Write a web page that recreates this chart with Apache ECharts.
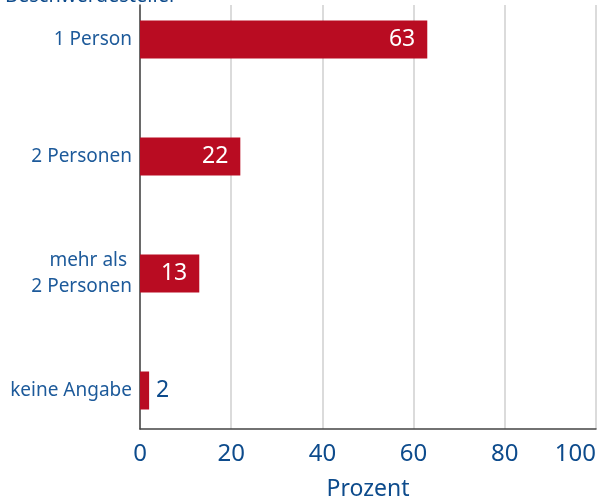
<!DOCTYPE html>
<html>
<head>
<meta charset="utf-8">
<script src="https://cdn.jsdelivr.net/npm/echarts@6/dist/echarts.min.js"></script>
<style>
    html, body { margin: 0; padding: 0; background: #fff; }
    #chart { width: 598px; height: 499px; }
</style>
</head>
<body>
<div id="chart"></div>
<script>
// Daten
var categories = ['1 Person', '2 Personen', 'mehr als \n2 Personen', 'keine Angabe'];
var values = [63, 22, 13, 2];
var xTicks = [0, 20, 40, 60, 80, 100];

var barColor = '#b90c22';
var blue = '#1d5a9a';
var darkBlue = '#0d4b8c';

// kleine Balken bekommen die Zahl außen
var barData = values.map(function (v) {
    var small = v < 5;
    return {
        value: v,
        label: {
            show: true,
            position: small ? 'right' : 'insideRight',
            distance: small ? 7 : 12,
            color: small ? darkBlue : '#fff',
            fontSize: 23,
            fontFamily: 'Noto Sans'
        }
    };
});

var chart = echarts.init(document.getElementById('chart'));
var option = {
    animation: false,
    title: {
        text: 'Beschwerdesteller',
        left: 0,
        top: -19,
        textStyle: {color: darkBlue, fontSize: 20, fontWeight: 'normal', fontFamily: 'Noto Sans'}
    },
    grid: [
        {left: 140, right: 2, top: 5, bottom: 70, outerBoundsMode: 'none'},
        {left: 140, right: 2, top: -19, bottom: 50, outerBoundsMode: 'none'}
    ],
    xAxis: [{
        gridIndex: 0,
        type: 'value',
        min: xTicks[0],
        max: xTicks[xTicks.length - 1],
        interval: xTicks[1] - xTicks[0],
        name: 'Prozent',
        nameLocation: 'middle',
        nameGap: 49,
        nameTextStyle: {color: darkBlue, fontSize: 23, fontFamily: 'Noto Sans'},
        axisLine: {show: true, lineStyle: {color: '#444', width: 1.5}},
        axisTick: {show: false},
        splitLine: {show: true, lineStyle: {color: '#cfcfcf', width: 1.5}},
        axisLabel: {color: darkBlue, fontSize: 24, fontFamily: 'Noto Sans', margin: 13, alignMaxLabel: 'right'}
    }, {
        gridIndex: 1,
        type: 'value',
        min: xTicks[0],
        max: xTicks[xTicks.length - 1],
        show: false
    }],
    yAxis: [{
        gridIndex: 0,
        type: 'value',
        axisLine: {show: true, lineStyle: {color: '#444', width: 1.5}},
        axisTick: {show: false},
        axisLabel: {show: false},
        splitLine: {show: false}
    }, {
        gridIndex: 1,
        type: 'category',
        inverse: true,
        data: categories,
        axisLine: {show: false},
        axisTick: {show: false},
        axisLabel: {color: blue, fontSize: 19, fontFamily: 'Noto Sans', margin: 8, lineHeight: 26, align: 'right'}
    }],
    series: [{
        type: 'bar',
        xAxisIndex: 1,
        yAxisIndex: 1,
        data: barData,
        barWidth: 38,
        itemStyle: {color: barColor}
    }]
};
chart.setOption(option);
</script>
</body>
</html>
